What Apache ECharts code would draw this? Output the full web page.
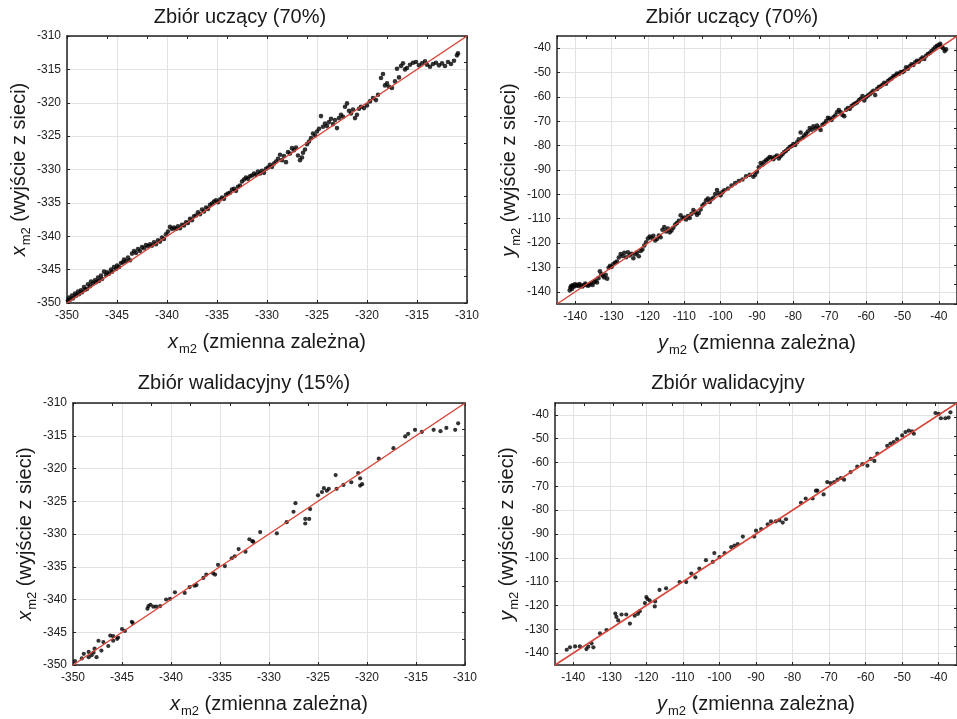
<!DOCTYPE html>
<html><head><meta charset="utf-8">
<script src="https://cdn.jsdelivr.net/npm/echarts@6/dist/echarts.min.js"></script>
<style>html,body{margin:0;padding:0;background:#fff}#c{width:957px;height:719px}</style>
</head><body><div id="c"></div>
<script>
// ---------- DATA ----------
const titles = ['Zbiór uczący (70%)', 'Zbiór uczący (70%)', 'Zbiór walidacyjny (15%)', 'Zbiór walidacyjny'];
const rangeX = [-350, -310];
const rangeY = [-145, -35];
const ticksX = [-350, -345, -340, -335, -330, -325, -320, -315, -310];
const ticksY = [-140, -130, -120, -110, -100, -90, -80, -70, -60, -50, -40];

// training set, x_m2: [target, network output]
const trainX = [
[-349.9,-349.6],[-349.8,-349.2],[-349.7,-349.5],[-349.5,-348.9],[-349.4,-349.3],[-349.2,-348.6],[-349.1,-348.9],[-348.9,-348.3],
[-348.8,-348.7],[-348.6,-348.1],[-348.5,-348.4],[-348.3,-347.6],[-348.2,-348.0],[-348.0,-347.9],[-347.9,-347.2],[-347.7,-347.5],
[-347.6,-346.8],[-347.4,-347.1],[-347.2,-346.6],[-347.1,-346.9],[-346.9,-346.2],[-346.8,-346.7],[-346.6,-345.9],[-346.5,-346.4],
[-346.3,-345.3],[-346.1,-345.8],[-346.0,-345.4],[-345.8,-345.6],[-345.6,-345.0],[-345.5,-345.3],[-345.3,-344.6],[-345.1,-344.9],
[-345.0,-344.4],[-344.8,-344.6],[-344.6,-344.0],[-344.4,-343.9],[-344.3,-343.5],[-344.1,-343.7],[-343.9,-343.2],[-343.7,-343.6],
[-343.5,-342.6],[-343.3,-342.2],[-343.1,-342.5],[-342.9,-341.9],[-342.7,-342.2],[-342.5,-341.6],[-342.3,-341.8],[-342.1,-341.3],
[-341.9,-341.5],[-341.7,-341.2],[-341.5,-341.4],[-341.3,-340.9],[-341.1,-341.2],[-340.9,-340.6],[-340.7,-340.8],[-340.5,-340.2],
[-340.3,-340.4],[-340.1,-339.7],[-339.9,-339.3],[-339.7,-338.6],[-339.5,-338.9],[-339.3,-338.7],[-339.1,-338.9],[-338.9,-338.5],
[-338.7,-338.8],[-338.5,-338.3],[-338.3,-338.4],[-338.1,-337.9],[-337.9,-338.0],[-337.7,-337.4],[-337.5,-337.6],[-337.3,-337.0],
[-337.1,-336.9],[-336.9,-336.4],[-336.7,-336.7],[-336.5,-336.0],[-336.3,-336.3],[-336.1,-335.7],[-335.9,-335.9],[-335.7,-335.3],
[-335.5,-335.1],[-335.3,-334.8],[-335.1,-334.6],[-334.9,-334.9],[-334.7,-334.5],[-334.5,-334.2],[-334.3,-334.4],[-334.1,-333.8],
[-333.9,-333.6],[-333.7,-333.5],[-333.5,-333.0],[-333.3,-332.9],[-333.1,-333.2],[-332.9,-332.6],[-332.7,-332.4],[-332.5,-331.8],
[-332.3,-331.5],[-332.1,-331.2],[-331.9,-331.4],[-331.7,-331.0],[-331.5,-330.9],[-331.3,-330.6],[-331.1,-330.8],[-330.9,-330.3],
[-330.7,-330.6],[-330.5,-330.2],[-330.3,-330.5],[-330.1,-329.9],[-329.9,-329.7],[-329.7,-329.3],[-329.5,-329.6],[-329.3,-329.1],
[-329.1,-328.8],[-328.9,-328.4],[-328.7,-327.8],[-328.5,-328.6],[-328.3,-328.0],[-328.1,-328.9],[-327.9,-327.4],[-327.7,-327.6],
[-327.5,-326.8],[-327.3,-327.1],[-327.1,-326.7],[-326.9,-327.9],[-326.7,-328.6],[-326.5,-328.2],[-326.4,-327.5],[-326.2,-327.0],
[-326.0,-326.2],[-325.8,-325.8],[-325.6,-325.3],[-325.4,-324.6],[-325.2,-324.9],[-325.0,-324.3],[-324.8,-323.9],[-324.6,-322.0],
[-324.4,-323.6],[-324.2,-323.1],[-324.0,-323.5],[-323.8,-322.9],[-323.6,-322.4],[-323.4,-323.2],[-323.2,-322.6],[-323.0,-323.8],
[-322.8,-322.3],[-322.6,-321.8],[-322.4,-322.1],[-322.2,-320.6],[-322.0,-320.1],[-321.8,-321.2],[-321.6,-321.6],[-321.4,-321.0],
[-321.2,-322.3],[-321.0,-321.8],[-320.8,-320.9],[-320.6,-320.6],[-320.3,-320.8],[-320.0,-320.4],[-319.7,-319.8],[-319.4,-319.3],
[-319.1,-319.6],[-318.9,-318.8],[-318.6,-316.3],[-318.4,-315.7],[-318.2,-317.4],[-318.0,-317.1],[-317.8,-317.6],[-317.5,-317.8],
[-317.2,-316.8],[-317.0,-314.9],[-316.8,-316.2],[-316.6,-314.5],[-316.4,-314.1],[-316.2,-315.0],[-316.0,-314.8],[-315.7,-314.3],
[-315.4,-314.0],[-315.1,-313.9],[-314.8,-314.4],[-314.5,-314.1],[-314.2,-313.8],[-314.0,-314.3],[-313.7,-314.6],[-313.4,-314.2],
[-313.1,-314.0],[-312.8,-314.4],[-312.5,-314.1],[-312.2,-314.5],[-311.9,-313.9],[-311.6,-314.2],[-311.3,-313.7],[-311.0,-312.9],
[-310.9,-312.6]
];

// training set, y_m2
const trainY = [
[-141.5,-139.4],[-141.3,-138.2],[-141.1,-137.6],[-140.9,-138.8],[-140.7,-137.3],[-140.4,-137.9],[-140.1,-136.9],[-139.8,-137.5],
[-139.5,-137.1],[-139.1,-137.6],[-138.8,-136.8],[-138.4,-137.4],[-138.0,-137.8],[-137.6,-137.2],[-137.2,-136.6],[-136.8,-137.3],
[-136.4,-137.5],[-136.0,-137.0],[-135.6,-136.4],[-135.2,-137.2],[-134.8,-136.0],[-134.4,-135.5],[-134.0,-136.2],[-133.6,-134.4],
[-133.2,-131.6],[-132.8,-132.8],[-132.4,-133.4],[-132.0,-134.1],[-131.6,-133.0],[-131.2,-134.6],[-130.8,-130.1],[-130.4,-129.3],
[-130.0,-129.8],[-129.5,-128.6],[-129.0,-128.0],[-128.5,-127.6],[-128.0,-125.9],[-127.5,-124.5],[-127.0,-125.3],[-126.5,-124.0],
[-126.0,-125.8],[-125.5,-123.8],[-125.0,-125.1],[-124.5,-124.4],[-124.0,-126.2],[-123.5,-124.6],[-123.0,-123.9],[-122.5,-125.4],
[-122.0,-123.2],[-121.5,-122.6],[-121.0,-121.0],[-120.5,-119.7],[-120.0,-118.1],[-119.5,-117.3],[-119.0,-117.8],[-118.5,-117.0],
[-118.0,-118.9],[-117.5,-118.3],[-117.0,-116.9],[-116.5,-117.6],[-116.0,-114.5],[-115.5,-113.4],[-115.0,-115.2],[-114.5,-114.0],
[-114.0,-115.6],[-113.5,-114.8],[-113.0,-113.7],[-112.5,-112.4],[-112.0,-111.8],[-111.5,-110.9],[-111.0,-108.6],[-110.5,-109.8],
[-110.0,-109.5],[-109.5,-110.3],[-109.0,-108.9],[-108.5,-109.7],[-108.0,-108.0],[-107.5,-106.4],[-107.0,-107.3],[-106.5,-108.4],
[-106.0,-107.7],[-105.5,-106.2],[-105.0,-104.6],[-104.5,-103.9],[-104.0,-102.4],[-103.5,-101.7],[-103.0,-103.1],[-102.5,-102.0],
[-102.0,-101.4],[-101.5,-99.9],[-101.0,-98.2],[-100.5,-99.6],[-100.0,-100.4],[-99.5,-99.1],[-99.0,-98.3],[-98.0,-97.6],
[-97.0,-96.4],[-96.0,-95.4],[-95.0,-94.5],[-94.0,-93.9],[-93.0,-92.6],[-92.0,-92.0],[-91.0,-92.8],[-90.5,-91.9],
[-90.0,-90.7],[-89.5,-88.9],[-89.0,-87.1],[-88.5,-87.8],[-88.0,-86.6],[-87.5,-86.0],[-87.0,-85.4],[-86.5,-84.7],
[-86.0,-84.9],[-85.5,-85.6],[-85.0,-84.6],[-84.5,-84.1],[-84.0,-85.3],[-83.5,-84.3],[-83.0,-83.5],[-82.5,-82.6],
[-82.0,-82.1],[-81.5,-81.4],[-81.0,-80.6],[-80.5,-80.2],[-80.0,-79.4],[-79.5,-79.7],[-79.0,-78.6],[-78.5,-77.4],
[-78.0,-74.6],[-77.5,-76.8],[-77.0,-75.9],[-76.5,-75.1],[-76.0,-74.2],[-75.5,-72.8],[-75.0,-73.5],[-74.5,-72.1],
[-74.0,-73.0],[-73.5,-71.8],[-73.0,-72.6],[-72.5,-73.6],[-72.0,-71.4],[-71.5,-70.9],[-71.0,-69.9],[-70.5,-68.6],
[-70.0,-68.9],[-69.5,-69.5],[-69.0,-68.4],[-68.5,-67.6],[-68.0,-66.3],[-67.5,-65.4],[-67.0,-66.2],[-66.5,-67.4],
[-66.0,-67.9],[-65.5,-65.3],[-65.0,-64.6],[-64.5,-64.9],[-64.0,-63.8],[-63.5,-63.1],[-63.0,-62.7],[-62.5,-62.3],
[-62.0,-61.4],[-61.5,-60.8],[-61.0,-59.6],[-60.5,-61.5],[-60.0,-60.1],[-59.5,-59.4],[-59.0,-58.9],[-58.5,-58.2],
[-58.0,-57.5],[-57.5,-59.2],[-57.0,-56.8],[-56.5,-56.0],[-56.0,-55.6],[-55.5,-55.0],[-55.0,-54.2],[-54.5,-54.6],
[-54.0,-53.5],[-53.5,-52.9],[-53.0,-52.4],[-52.5,-51.5],[-52.0,-51.2],[-51.5,-50.4],[-51.0,-50.6],[-50.5,-49.8],
[-50.0,-49.9],[-49.5,-49.3],[-49.0,-47.8],[-48.5,-48.4],[-48.0,-47.4],[-47.5,-46.6],[-47.0,-46.9],[-46.5,-45.8],
[-46.0,-45.2],[-45.5,-45.5],[-45.0,-44.6],[-44.5,-43.8],[-44.0,-44.4],[-43.5,-43.1],[-43.0,-42.4],[-42.5,-42.0],
[-42.0,-41.2],[-41.5,-40.5],[-41.0,-39.6],[-40.5,-39.0],[-40.0,-38.7],[-39.6,-38.2],[-39.2,-39.4],[-38.8,-40.0],
[-38.4,-41.2],[-38.0,-40.5]
];

// validation set, x_m2
const valX = [
[-349.8,-349.4],[-349.1,-349.0],[-348.9,-348.3],[-348.4,-348.0],[-348.1,-348.5],[-348.4,-348.8],[-347.8,-347.5],[-347.6,-348.8],
[-347.9,-348.1],[-347.4,-346.3],[-347.1,-347.8],[-346.9,-346.5],[-346.4,-347.1],[-346.2,-345.5],[-345.9,-345.6],[-345.9,-346.3],
[-345.5,-346.0],[-345.4,-345.8],[-345.0,-344.5],[-344.7,-344.8],[-344.0,-343.4],[-343.9,-343.6],[-342.3,-341.0],[-342.4,-341.4],
[-342.1,-340.8],[-341.8,-341.1],[-341.5,-341.1],[-341.1,-341.0],[-340.5,-340.0],[-340.1,-339.9],[-339.6,-338.9],[-338.6,-339.0],
[-338.1,-338.1],[-337.6,-337.9],[-337.4,-337.8],[-336.7,-336.7],[-336.4,-336.2],[-335.7,-336.0],[-335.5,-336.2],[-335.2,-334.7],
[-334.5,-334.9],[-333.8,-333.7],[-333.5,-333.4],[-333.1,-332.3],[-332.4,-332.7],[-332.0,-330.8],[-331.7,-331.1],[-331.6,-331.2],
[-330.9,-329.7],[-329.2,-329.9],[-328.2,-328.2],[-327.5,-326.6],[-327.3,-325.3],[-326.3,-327.7],[-326.3,-328.4],[-325.9,-327.7],
[-325.8,-326.2],[-325.0,-324.1],[-324.6,-323.6],[-324.4,-323.0],[-324.1,-323.4],[-323.9,-323.1],[-323.1,-323.1],[-323.2,-321.0],
[-322.4,-322.5],[-321.6,-322.1],[-320.9,-320.7],[-320.7,-321.5],[-320.5,-322.4],[-320.7,-322.6],[-318.8,-318.5],[-317.3,-316.9],
[-316.1,-315.1],[-315.8,-314.7],[-315.1,-314.1],[-314.4,-314.4],[-313.2,-314.1],[-312.5,-314.3],[-311.9,-313.8],[-311.0,-314.1],
[-310.7,-313.1]
];

// validation set, y_m2
const valY = [
[-141.8,-138.6],[-140.9,-137.6],[-139.5,-137.2],[-138.2,-137.2],[-136.4,-138.3],[-134.5,-137.6],[-135.9,-137.3],[-135.0,-135.9],
[-132.7,-131.7],[-130.9,-130.3],[-128.5,-123.4],[-128.2,-124.8],[-127.7,-126.3],[-126.8,-123.8],[-125.5,-123.8],[-124.5,-127.6],
[-123.2,-124.3],[-122.3,-123.5],[-121.8,-122.4],[-120.4,-119.0],[-120.0,-116.5],[-119.7,-117.3],[-119.1,-117.9],[-117.7,-120.4],
[-117.6,-118.3],[-116.4,-113.5],[-114.6,-112.8],[-110.9,-110.2],[-109.1,-110.2],[-107.7,-106.6],[-106.6,-108.2],[-105.5,-104.5],
[-103.7,-101.0],[-101.8,-101.7],[-101.4,-98.0],[-100.0,-99.7],[-98.6,-98.0],[-96.8,-95.5],[-95.9,-94.9],[-95.0,-94.2],
[-93.6,-91.1],[-90.5,-91.1],[-90.0,-88.6],[-88.6,-87.9],[-86.8,-85.9],[-85.9,-84.7],[-84.6,-84.7],[-83.6,-84.2],
[-82.7,-85.2],[-81.8,-83.8],[-77.7,-76.9],[-76.4,-75.1],[-74.5,-75.1],[-73.6,-71.8],[-73.2,-71.8],[-71.5,-73.4],
[-70.5,-68.2],[-69.6,-68.6],[-68.6,-68.2],[-67.7,-67.2],[-66.8,-66.5],[-65.9,-67.2],[-64.1,-64.0],[-62.3,-61.7],
[-60.9,-60.7],[-59.5,-61.3],[-58.6,-58.5],[-57.6,-59.3],[-56.8,-56.2],[-54.1,-53.0],[-53.2,-52.0],[-52.3,-51.4],
[-51.4,-50.2],[-50.0,-48.6],[-49.1,-47.2],[-48.2,-46.6],[-47.3,-46.9],[-46.8,-47.9],[-40.9,-39.2],[-40.0,-39.6],
[-39.4,-41.4],[-38.2,-41.4],[-37.3,-41.1],[-36.8,-38.9]
];

// ---------- CHART ----------
const FONT = "'Liberation Sans', Arial, Helvetica, sans-serif";
const panels = [
  {grid:{left:67, top:36, width:400, height:267}, range:rangeX, ticks:ticksX, minor:4, letter:'x', data:trainX, title:titles[0], tx:240, ty:17, ss:4.6},
  {grid:{left:557, top:36, width:411, height:268}, range:rangeY, ticks:ticksY, minor:8, letter:'y', data:trainY, title:titles[1], tx:732, ty:17, ss:4.6},
  {grid:{left:73, top:403, width:392, height:265}, range:rangeX, ticks:ticksX, minor:4, letter:'x', data:valX, title:titles[2], tx:244, ty:383, ss:4.2},
  {grid:{left:555, top:403, width:404, height:265}, range:rangeY, ticks:ticksY, minor:8, letter:'y', data:valY, title:titles[3], tx:728, ty:383, ss:4.2}
];

const rich = {
  i:{fontFamily:FONT, fontStyle:'italic', fontSize:20, lineHeight:24, verticalAlign:'top', color:'#1a1a1a'},
  s:{fontFamily:FONT, fontSize:13, lineHeight:13, padding:[11,0,0,1], verticalAlign:'top', color:'#1a1a1a'},
  n:{fontFamily:FONT, fontSize:20, lineHeight:24, verticalAlign:'top', color:'#1a1a1a'}
};
function nm(letter, rest){ return '{i|' + letter + '}{s|m2}{n| ' + rest + '}'; }

const frame = {show:true, lineStyle:{color:'#222', width:1.5}};
const grids = [], xAxes = [], yAxes = [], series = [], graphics = [];
panels.forEach((p, k) => {
  grids.push(p.grid);
  const common = {type:'value', gridIndex:k, min:p.range[0], max:p.range[1], axisLine:frame};
  xAxes.push(Object.assign({}, common, {
    position:'bottom',
    name: nm(p.letter, '(zmienna zależna)'), nameLocation:'middle', nameGap:29,
    nameTextStyle:{rich:rich},
    axisTick:{show:true, inside:true, length:3, customValues:p.ticks, lineStyle:{color:'#222'}},
    axisLabel:{customValues:p.ticks, fontFamily:FONT, fontSize:12, color:'#222', margin:7},
    splitLine:{show:true, customValues:p.ticks, lineStyle:{color:'#e2e2e2', width:1}}
  }));
  xAxes.push(Object.assign({}, common, {
    position:'top', interval:p.minor,
    axisTick:{show:true, inside:true, length:3, lineStyle:{color:'#222'}},
    axisLabel:{show:false}, splitLine:{show:false}
  }));
  yAxes.push(Object.assign({}, common, {
    position:'left',
    name: nm(p.letter, '(wyjście z sieci)'), nameLocation:'middle', nameGap:33,
    nameTextStyle:{rich:rich},
    axisTick:{show:true, inside:true, length:3, customValues:p.ticks, lineStyle:{color:'#222'}},
    axisLabel:{customValues:p.ticks, fontFamily:FONT, fontSize:12, color:'#222', margin:6},
    splitLine:{show:true, customValues:p.ticks, lineStyle:{color:'#e2e2e2', width:1}}
  }));
  yAxes.push(Object.assign({}, common, {
    position:'right', interval:p.minor,
    axisTick:{show:true, inside:true, length:3, lineStyle:{color:'#222'}},
    axisLabel:{show:false}, splitLine:{show:false}
  }));
  series.push({
    type:'scatter', xAxisIndex:2*k, yAxisIndex:2*k, data:p.data,
    symbol:'circle', symbolSize:p.ss, itemStyle:{color:'#000'}, silent:true, z:2
  });
  series.push({
    type:'line', xAxisIndex:2*k, yAxisIndex:2*k,
    data:[[p.range[0], p.range[0]], [p.range[1], p.range[1]]],
    symbol:'none', lineStyle:{color:'#d8453a', width:1.5}, silent:true, z:3
  });
  graphics.push({type:'text', x:p.tx, y:p.ty, style:{text:p.title, font:'20px ' + FONT, fill:'#1a1a1a', textAlign:'center', textVerticalAlign:'middle'}});
});

const chart = echarts.init(document.getElementById('c'), null, {renderer:'canvas'});
chart.setOption({
  animation:false,
  backgroundColor:'#ffffff',
  grid:grids, xAxis:xAxes, yAxis:yAxes, series:series, graphic:graphics
});
</script>
</body></html>
